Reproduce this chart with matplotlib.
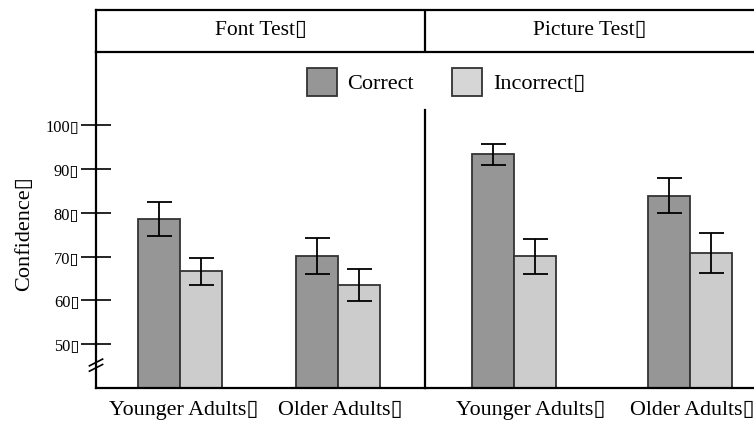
import numpy as np
import matplotlib
matplotlib.use("Agg")
import matplotlib.pyplot as plt
import matplotlib.transforms as mtransforms
from matplotlib.patches import Patch

plt.rcParams['font.family'] = ['Liberation Serif', 'DejaVu Sans']

# ---- data ----
BOX = "\u25af"
tests = ["Font Test", "Picture Test"]
groups = ["Younger Adults", "Older Adults"]
conditions = ["Correct", "Incorrect"]
# mean confidence per test -> [younger, older]
correct_mean = {"Font Test": [78.6, 70.1], "Picture Test": [93.4, 83.9]}
correct_err = {"Font Test": [3.9, 4.1], "Picture Test": [2.4, 4.0]}
incorrect_mean = {"Font Test": [66.6, 63.5], "Picture Test": [70.1, 70.8]}
incorrect_err = {"Font Test": [3.0, 3.6], "Picture Test": [4.0, 4.5]}
yticks = [50, 60, 70, 80, 90, 100]

c_correct = "#969696"
c_incorrect = "#cccccc"
edge = "#333333"

W, H = 754, 428
fig = plt.figure(figsize=(W / 100, H / 100), dpi=100)

def px_box(x0, y0, x1, y1):
    # pixel box (top-left origin) -> figure fraction rect
    return [x0 / W, 1 - y1 / H, (x1 - x0) / W, (y1 - y0) / H]

ax_font = fig.add_axes(px_box(96, 52, 425, 388))
ax_pic = fig.add_axes(px_box(425, 52, 754, 388))
ax_head = fig.add_axes(px_box(96, 10, 754, 52))

ylo, yhi = 40, 116.7
# axes, test, xlim, bar width, label nudges in px
panels = [(ax_font, "Font Test", (-0.532, 1.551), 0.266, (4, 2)),
          (ax_pic, "Picture Test", (-0.506, 1.364), 0.239, (17, 2)),]

for ax, test, xlim, w, shifts in panels:
    x = np.arange(len(groups))
    ax.bar(x - w / 2, correct_mean[test], w, color=c_correct, edgecolor=edge,
           linewidth=1.3, yerr=correct_err[test],
           error_kw=dict(ecolor="black", elinewidth=1.3, capsize=9, capthick=1.3))
    ax.bar(x + w / 2, incorrect_mean[test], w, color=c_incorrect, edgecolor=edge,
           linewidth=1.3, yerr=incorrect_err[test],
           error_kw=dict(ecolor="black", elinewidth=1.3, capsize=9, capthick=1.3))
    ax.set_xlim(*xlim)
    ax.set_ylim(ylo, yhi)
    ax.set_xticks(x)
    ax.set_xticklabels([g + BOX for g in groups], fontsize=15.8)
    ax.tick_params(axis="x", length=0, pad=9)
    # nudge the group labels sideways a little
    for lab, s in zip(ax.get_xticklabels(), shifts):
        off = mtransforms.ScaledTranslation(s / 100, 0, fig.dpi_scale_trans)
        lab.set_transform(lab.get_transform() + off)
    ax.spines["top"].set_visible(False)
    ax.spines["right"].set_visible(False)
    for s in ("left", "bottom"):
        ax.spines[s].set_linewidth(1.6)
    ax.patch.set_alpha(0)

# y axis only on the left panel
ax_font.set_yticks(yticks)
ax_font.set_yticklabels([f"{t}" + BOX for t in yticks], fontsize=11.8)
ax_font.tick_params(axis="y", direction="inout", length=22, width=1.2, pad=1)
ax_pic.set_yticks([])
ax_pic.spines["left"].set_bounds(ylo, 103.5)

# axis break marks
for dy in (-0.008, 0.008):
    ax_font.plot([-0.02, 0.02], [0.058 + dy, 0.078 + dy], transform=ax_font.transAxes,
                 color="black", lw=1.2, clip_on=False)

fig.text(25 / W, 1 - 234 / H, "Confidence" + BOX, rotation=90, fontsize=16,
         ha="center", va="center")

# panel header strip
ax_head.set_xlim(0, 1)
ax_head.set_ylim(0, 1)
ax_head.set_xticks([])
ax_head.set_yticks([])
ax_head.spines["right"].set_visible(False)
for s in ("left", "top", "bottom"):
    ax_head.spines[s].set_linewidth(1.6)
ax_head.axvline(0.5, color="black", lw=1.6)
for i, t in enumerate(tests):
    ax_head.text(0.25 + 0.5 * i, 0.5, t + BOX, ha="center", va="center", fontsize=15.5)

handles = [Patch(facecolor=c_correct, edgecolor=edge, linewidth=1.3),
           Patch(facecolor="#d6d6d6", edgecolor=edge, linewidth=1.3)]
fig.legend(handles, ["Correct", "Incorrect" + BOX], loc="center",
           bbox_to_anchor=(446 / W, 1 - 82 / H), ncol=2, frameon=False,
           fontsize=16, handlelength=1.35, handleheight=1.6, columnspacing=1.7,
           handletextpad=0.5)

fig.savefig("out.png", dpi=100)
